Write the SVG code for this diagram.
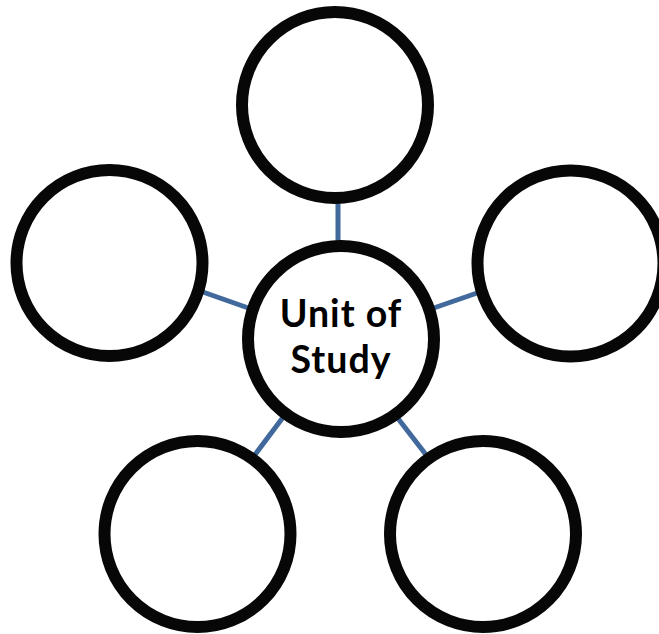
<svg xmlns="http://www.w3.org/2000/svg" width="659" height="634" viewBox="0 0 659 634">
  <style>
    .node { fill: #ffffff; stroke: #070707; stroke-width: 12; }
    .link { stroke: #41699b; stroke-width: 5; fill: none; }
    .label { font-family: "Lato", "Liberation Sans", sans-serif; font-weight: 700; font-size: 37.5px; letter-spacing: 1px; fill: #000000; text-anchor: middle; }
  </style>
  <rect width="659" height="634" fill="#ffffff"/>
  <!-- spokes from the centre to each outer circle -->
  <g id="connectors">
    <line class="link" x1="338" y1="200" x2="338" y2="246"/>
    <line class="link" x1="200" y1="291" x2="254" y2="310"/>
    <line class="link" x1="428" y1="310" x2="480" y2="292"/>
    <line class="link" x1="254" y1="456" x2="287" y2="412"/>
    <line class="link" x1="393" y1="412" x2="427" y2="456"/>
  </g>
  <g id="node-top"><circle class="node" cx="335" cy="105" r="93"/></g>
  <g id="node-left"><circle class="node" cx="109.5" cy="263" r="93"/></g>
  <g id="node-right"><circle class="node" cx="570.5" cy="263.5" r="93"/></g>
  <g id="node-bottom-left"><circle class="node" cx="197.5" cy="534" r="93"/></g>
  <g id="node-bottom-right"><circle class="node" cx="483" cy="534" r="93"/></g>
  <g id="node-centre">
    <circle class="node" cx="341" cy="339" r="93"/>
    <text class="label" x="341" y="327">Unit of</text>
    <text class="label" x="341" y="373">Study</text>
  </g>
</svg>
